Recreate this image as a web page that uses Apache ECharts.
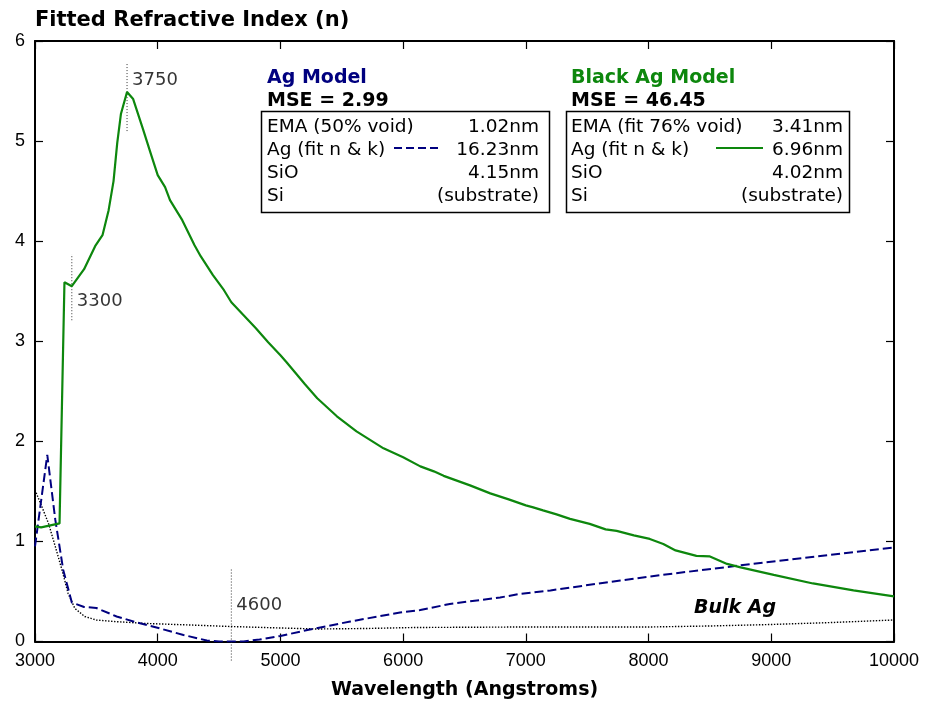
<!DOCTYPE html>
<html>
<head>
<meta charset="utf-8">
<script src="https://cdn.jsdelivr.net/npm/echarts@6/dist/echarts.min.js"></script>
<style>
  html, body { margin: 0; padding: 0; background: #fff; }
  #chart { width: 925px; height: 702px; }
</style>
</head>
<body>
<div id="chart"></div>
<script>
// Wavelength axis (Angstroms) and refractive index axis ticks
const xTicks = [3000, 4000, 5000, 6000, 7000, 8000, 9000, 10000];
const yTicks = [0, 1, 2, 3, 4, 5, 6];

// Black Ag model: fitted n vs wavelength
const blackAgWl = [3000, 3050, 3200, 3240, 3300, 3400, 3490, 3550, 3600, 3640, 3670, 3700, 3750, 3800, 3880, 3950, 4000, 4060, 4100, 4200, 4300, 4350, 4450, 4540, 4600, 4700, 4800, 4900, 5000, 5050, 5200, 5300, 5460, 5620, 5840, 6000, 6140, 6250, 6330, 6545, 6710, 6860, 7000, 7060, 7140, 7250, 7360, 7520, 7650, 7740, 7880, 8010, 8120, 8220, 8390, 8500, 8640, 8750, 9020, 9340, 9670, 10000];
const blackAgN = [1.15, 1.14, 1.18, 3.59, 3.55, 3.72, 3.95, 4.06, 4.31, 4.6, 4.98, 5.27, 5.49, 5.42, 5.12, 4.85, 4.66, 4.54, 4.41, 4.21, 3.96, 3.85, 3.66, 3.51, 3.39, 3.26, 3.13, 2.99, 2.86, 2.79, 2.57, 2.43, 2.25, 2.10, 1.93, 1.84, 1.75, 1.70, 1.655, 1.56, 1.48, 1.42, 1.36, 1.34, 1.31, 1.27, 1.225, 1.175, 1.12, 1.105, 1.06, 1.025, 0.975, 0.91, 0.855, 0.85, 0.775, 0.74, 0.665, 0.58, 0.51, 0.45];

// Ag model: fitted n vs wavelength
const agWl = [3000, 3100, 3165, 3230, 3300, 3400, 3500, 3665, 3830, 3990, 4210, 4400, 4500, 4700, 4830, 5000, 5240, 5570, 5975, 6140, 6380, 6790, 6950, 7200, 7770, 8175, 8745, 9400, 10000];
const agN = [0.95, 1.865, 1.22, 0.715, 0.39, 0.345, 0.335, 0.25, 0.19, 0.14, 0.065, 0.01, 0.0, 0.0, 0.02, 0.055, 0.12, 0.20, 0.29, 0.315, 0.375, 0.44, 0.475, 0.51, 0.61, 0.675, 0.76, 0.855, 0.94];

// Bulk Ag reference n
const bulkWl = [3000, 3055, 3110, 3165, 3220, 3270, 3325, 3405, 3500, 3640, 3910, 4260, 4590, 5000, 5300, 5700, 6100, 7000, 8000, 8500, 9000, 9500, 10000];
const bulkN = [1.515, 1.35, 1.18, 0.95, 0.715, 0.48, 0.33, 0.25, 0.215, 0.20, 0.18, 0.165, 0.15, 0.135, 0.125, 0.13, 0.14, 0.145, 0.145, 0.155, 0.17, 0.19, 0.215];

// Marked wavelengths, the n range of each marker line and where its label sits
const markWl = [3300, 3750, 4600];
const markFrom = [3.21, 5.10, -0.19];
const markTo = [3.87, 5.77, 0.72];
const markLabelN = [3.40, 5.61, 0.365];

// Layer stacks listed in the two model boxes
const agModelRows = [['EMA (50% void)', '1.02nm'], ['Ag (fit n & k)', '16.23nm'], ['SiO', '4.15nm'], ['Si', '(substrate)']];
const blackModelRows = [['EMA (fit 76% void)', '3.41nm'], ['Ag (fit n & k)', '6.96nm'], ['SiO', '4.02nm'], ['Si', '(substrate)']];
const agMSE = 2.99;
const blackMSE = 46.45;

const GREEN = '#0d870d';
const NAVY = '#00007f';
const SANS = 'DejaVu Sans';
const TICKFONT = 'Liberation Sans';
const BODY = '18.5px "' + SANS + '"';
const BOLD = 'bold 19px "' + SANS + '"';

const zip = (a, b) => a.map((v, i) => [v, b[i]]);

const chart = echarts.init(document.getElementById('chart'), null, { renderer: 'canvas' });

const axisCommon = {
  type: 'value',
  axisLine: { show: true, onZero: false, lineStyle: { color: '#000', width: 2 } },
  axisTick: { show: true, inside: true, length: 8, lineStyle: { color: '#000', width: 1.2 } },
  splitLine: { show: false }
};

const markerSeries = markWl.map((wl, i) => ({
  type: 'line',
  data: [[wl, markFrom[i]], [wl, markTo[i]]],
  symbol: 'none',
  clip: false,
  silent: true,
  z: 1,
  lineStyle: { color: '#333', width: 1, type: [1, 2] }
}));

const legendRows = (rows, left, right, top) => {
  const out = [];
  rows.forEach((r, i) => {
    const y = top + 14 + i * 23;
    out.push({ type: 'text', left: left, top: y - 7, style: { text: r[0], font: BODY, fill: '#000' } });
    out.push({ type: 'text', right: 925 - right, top: y - 7, style: { text: r[1], font: BODY, fill: '#000' } });
  });
  return out;
};

const option = {
  animation: false,
  backgroundColor: '#fff',
  grid: { left: 35, right: 31, top: 41, bottom: 60.5, containLabel: false, outerBoundsMode: 'none' },
  xAxis: [
    Object.assign({}, axisCommon, {
      position: 'bottom', min: xTicks[0], max: xTicks[xTicks.length - 1], interval: 1000,
      axisLabel: { color: '#000', fontFamily: TICKFONT, fontSize: 18, margin: 11, formatter: v => String(v) },
      name: 'Wavelength (Angstroms)', nameLocation: 'middle', nameGap: 39,
      nameTextStyle: { color: '#000', fontFamily: SANS, fontWeight: 'bold', fontSize: 19 }
    }),
    Object.assign({}, axisCommon, {
      position: 'top', min: xTicks[0], max: xTicks[xTicks.length - 1], interval: 1000,
      axisLabel: { show: false }
    })
  ],
  yAxis: [
    Object.assign({}, axisCommon, {
      position: 'left', min: yTicks[0], max: yTicks[yTicks.length - 1], interval: 1,
      axisLabel: { color: '#000', fontFamily: TICKFONT, fontSize: 18, margin: 10, formatter: v => String(v) }
    }),
    Object.assign({}, axisCommon, {
      position: 'right', min: yTicks[0], max: yTicks[yTicks.length - 1], interval: 1,
      axisLabel: { show: false }
    })
  ],
  series: [
    {
      name: 'Bulk Ag', type: 'line', data: zip(bulkWl, bulkN), symbol: 'none', z: 2,
      lineStyle: { color: '#000', width: 1.4, type: [1.4, 1.6] }
    },
    {
      name: 'Ag Model', type: 'line', data: zip(agWl, agN), symbol: 'none', z: 3,
      lineStyle: { color: NAVY, width: 2, type: [9, 4] }
    },
    {
      name: 'Black Ag Model', type: 'line', data: zip(blackAgWl, blackAgN), symbol: 'none', z: 4,
      lineStyle: { color: GREEN, width: 2.2 }
    },
    ...markerSeries,
    {
      type: 'scatter', symbolSize: 0, silent: true, z: 5, clip: false,
      data: markWl.map((wl, i) => [wl, markLabelN[i]]),
      label: {
        show: true, position: 'right', distance: 5,
        formatter: p => String(p.value[0]),
        color: '#000', fontFamily: SANS, fontSize: 18
      }
    }
  ],
  graphic: [
    { type: 'text', left: 35, top: 10, style: { text: 'Fitted Refractive Index (n)', font: 'bold 21px "' + SANS + '"', fill: '#000' } },
    // Ag model box
    { type: 'text', left: 267, top: 69, style: { text: 'Ag Model', font: BOLD, fill: NAVY } },
    { type: 'text', left: 267, top: 92, style: { text: 'MSE = ' + agMSE.toFixed(2), font: BOLD, fill: '#000' } },
    { type: 'rect', shape: { x: 261.5, y: 111.5, width: 288, height: 101 }, style: { fill: 'none', stroke: '#000', lineWidth: 1.5 } },
    ...legendRows(agModelRows, 267, 539, 111),
    { type: 'line', shape: { x1: 394, y1: 148, x2: 442, y2: 148 }, style: { stroke: NAVY, lineWidth: 2, lineDash: [8, 4] } },
    // Black Ag model box
    { type: 'text', left: 571, top: 69, style: { text: 'Black Ag Model', font: BOLD, fill: GREEN } },
    { type: 'text', left: 571, top: 92, style: { text: 'MSE = ' + blackMSE.toFixed(2), font: BOLD, fill: '#000' } },
    { type: 'rect', shape: { x: 566.5, y: 111.5, width: 283, height: 101 }, style: { fill: 'none', stroke: '#000', lineWidth: 1.5 } },
    ...legendRows(blackModelRows, 571, 843, 111),
    { type: 'line', shape: { x1: 716, y1: 148, x2: 763, y2: 148 }, style: { stroke: GREEN, lineWidth: 2 } },
    // Bulk Ag curve label
    { type: 'text', left: 694, top: 599, style: { text: 'Bulk Ag', font: 'italic bold 19px "' + SANS + '"', fill: '#000' } }
  ]
};

chart.setOption(option);
</script>
</body>
</html>
